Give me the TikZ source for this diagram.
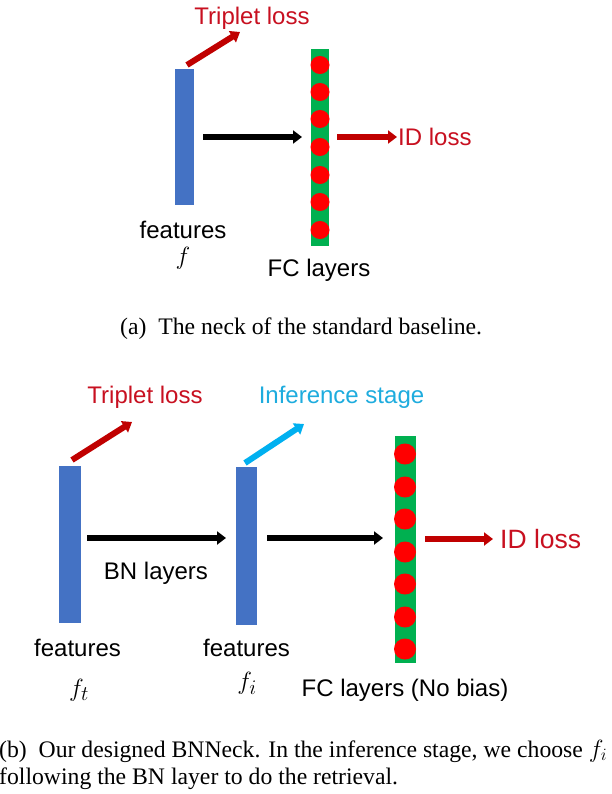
\documentclass[tikz,border=0pt]{standalone}
\usepackage{fontspec}
\setmainfont{Liberation Serif}
\newfontfamily\lsans{Liberation Sans}
\usetikzlibrary{arrows.meta,shapes.geometric}
\definecolor{barblue}{RGB}{68,114,196}
\definecolor{bargreen}{RGB}{0,176,80}
\definecolor{dotred}{RGB}{255,0,0}
\definecolor{arrred}{RGB}{192,0,0}
\definecolor{txtred}{RGB}{200,16,32}
\definecolor{arrcyan}{RGB}{0,176,240}
\definecolor{txtcyan}{RGB}{30,172,222}
\tikzset{
  bluebar/.style={fill=barblue, draw=none, inner sep=0pt},
  greenbar/.style={fill=bargreen, draw=none, inner sep=0pt},
  fcdot/.style={fill=dotred, draw=none, ellipse, inner sep=0pt},
  blockarrow/.style={line width=6pt, -{Triangle[length=9pt,width=13pt]}},
  lbl/.style={font=\lsans\fontsize{24}{28}\selectfont, inner sep=0pt},
  mlbl/.style={font=\fontsize{29}{32}\selectfont, inner sep=0pt},
  captext/.style={font=\fontsize{23.7}{28}\selectfont, inner sep=0pt, anchor=base west},
}
\begin{document}
\begin{tikzpicture}[x=1pt,y=-1pt]
\useasboundingbox (0,0) rectangle (611,794);
\fill[white] (0,0) rectangle (611,794);
% ---------------- panel (a)
\node[bluebar, minimum width=19pt, minimum height=136pt] (fa) at (184.5,137) {};
\node[greenbar, minimum width=18pt, minimum height=197pt] (fca) at (320,147.5) {};
\foreach \i/\yy in {1/65,2/92,3/119,4/147,5/175,6/202,7/230}
  \node[fcdot, minimum width=19pt, minimum height=18pt] (da\i) at (320,\yy) {};
\coordinate (a1s) at (187,65);  \coordinate (a1e) at (240,32);
\coordinate (a2s) at (203,137); \coordinate (a2e) at (302,137);
\coordinate (a3s) at (337,137); \coordinate (a3e) at (397,137);
\draw[blockarrow, arrred] (a1s) -- (a1e);
\draw[blockarrow, black] (a2s) -- (a2e);
\draw[blockarrow, arrred] (a3s) -- (a3e);
\node[lbl, text=txtred] (tla) at (252,18) {Triplet loss};
\node[lbl, text=txtred, anchor=west] (ida) at (398,137) {ID loss};
\node[lbl] (feata) at (183,230) {features};
\node[mlbl] (fsym) at (183,258) {$f$};
\node[lbl] (fcla) at (319,270) {FC layers};
\node[captext] (capa) at (120,334) {(a)\enspace The neck of the standard baseline.};
% ---------------- panel (b)
\node[bluebar, minimum width=22pt, minimum height=157pt] (ft) at (70,544.5) {};
\node[bluebar, minimum width=21.5pt, minimum height=158pt] (fi) at (246.25,546) {};
\node[greenbar, minimum width=21.5pt, minimum height=227pt] (fcb) at (405.25,549.5) {};
\foreach \i/\yy in {1/454,2/487,3/519,4/552,5/584,6/617,7/649}
  \node[fcdot, minimum width=22pt, minimum height=21pt] (db\i) at (405,\yy) {};
\coordinate (b1s) at (72,460);  \coordinate (b1e) at (132,422);
\coordinate (b2s) at (245,463); \coordinate (b2e) at (304,424);
\coordinate (b3s) at (87,538);  \coordinate (b3e) at (226,538);
\coordinate (b4s) at (267,538); \coordinate (b4e) at (383,538);
\coordinate (b5s) at (425,539); \coordinate (b5e) at (493,539);
\draw[blockarrow, arrred] (b1s) -- (b1e);
\draw[blockarrow, arrcyan] (b2s) -- (b2e);
\draw[blockarrow, black] (b3s) -- (b3e);
\draw[blockarrow, black] (b4s) -- (b4e);
\draw[blockarrow, arrred] (b5s) -- (b5e);
\node[lbl, text=txtred] (tlb) at (145,397) {Triplet loss};
\node[lbl, text=txtcyan] (inf) at (341.5,397) {Inference stage};
\node[lbl, text=txtred, anchor=west, font=\lsans\fontsize{26.5}{30}\selectfont] (idb) at (500,539) {ID loss};
\node[lbl] (bnl) at (156,573) {BN layers};
\node[lbl] (featt) at (77.5,648) {features};
\node[lbl] (feati) at (246.5,648) {features};
\node[mlbl] (ftsym) at (79,690) {$f_t$};
\node[mlbl] (fisym) at (247,683) {$f_i$};
\node[lbl] (fclb) at (405,690) {FC layers (No bias)};
\node[captext] (capb1) at (-1,757) {(b)\enspace Our designed BNNeck. In the inference stage, we choose $f_i$};
\node[captext] (capb2) at (-1,784) {following the BN layer to do the retrieval.};
\end{tikzpicture}
\end{document}
